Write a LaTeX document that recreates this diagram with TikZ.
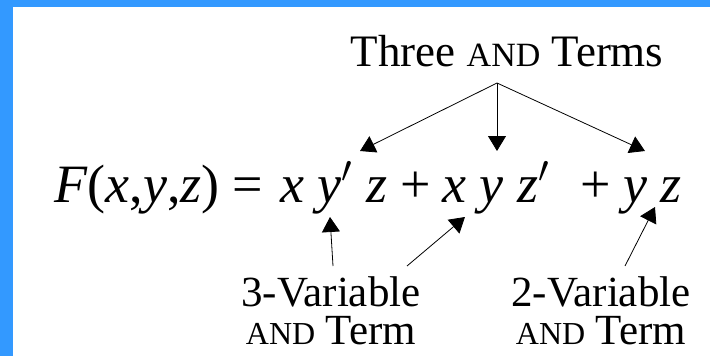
\documentclass[tikz,border=0pt]{standalone}
\usepackage{fix-cm}
\usepackage{fontspec}
\setmainfont{Liberation Serif}
\usetikzlibrary{arrows.meta}
\definecolor{frameblue}{HTML}{3399FF}
\newcommand{\andsc}[1]{{\fontsize{#1}{#1}\selectfont AND}}

\begin{document}
\begin{tikzpicture}[x=1pt, y=-1pt,
  eqn/.style={inner sep=0pt, anchor=base west, font=\fontsize{54}{60}\selectfont},
  lbl/.style={inner sep=0pt, anchor=base, align=center, font=\fontsize{43}{38}\selectfont},
  pointer/.style={-{Triangle[length=15pt, width=18pt]}, line width=0.8pt}]
% frame
\fill[frameblue] (0,0) rectangle (710,356);
\fill[white] (13,7) rectangle (710,356);

% the expression
\node[eqn] (lhs) at (54,202) {\textit{F}(\textit{x},\textit{y},\textit{z}) =};
\node[eqn] (t1) at (280,202) {\textit{x} \textit{y}$'$ \textit{z}};
\node[eqn] (p1) at (400,202) {+};
\node[eqn] (t2) at (442,202) {\textit{x} \textit{y} \textit{z}$'$};
\node[eqn] (p2) at (580,202) {+};
\node[eqn] (t3) at (623,202) {\textit{y} \textit{z}};

% top label and its three arrows
\node[lbl, font=\fontsize{45}{50}\selectfont] (three) at (507,66) {Three \andsc{34} Terms};
\coordinate (apex) at (497,83);
\coordinate (z1) at (360,151);
\coordinate (y2) at (497,151);
\coordinate (y3) at (645,151);
\draw[pointer] (apex) -- (z1);
\draw[pointer] (apex) -- (y2);
\draw[pointer] (apex) -- (y3);

% bottom labels (base = last line)
\node[lbl] (three var) at (331,344) {3-Variable\\\andsc{32} Term};
\node[lbl] (two var) at (601,344) {2-Variable\\\andsc{32} Term};
\coordinate (tail1) at (333,266);
\coordinate (tail2) at (407,266);
\coordinate (tail3) at (625,266);
\coordinate (tip1) at (330,217);
\coordinate (tip2) at (465,217);
\coordinate (tip3) at (655,207);
\draw[pointer] (tail1) -- (tip1);
\draw[pointer] (tail2) -- (tip2);
\draw[pointer] (tail3) -- (tip3);
\end{tikzpicture}
\end{document}
